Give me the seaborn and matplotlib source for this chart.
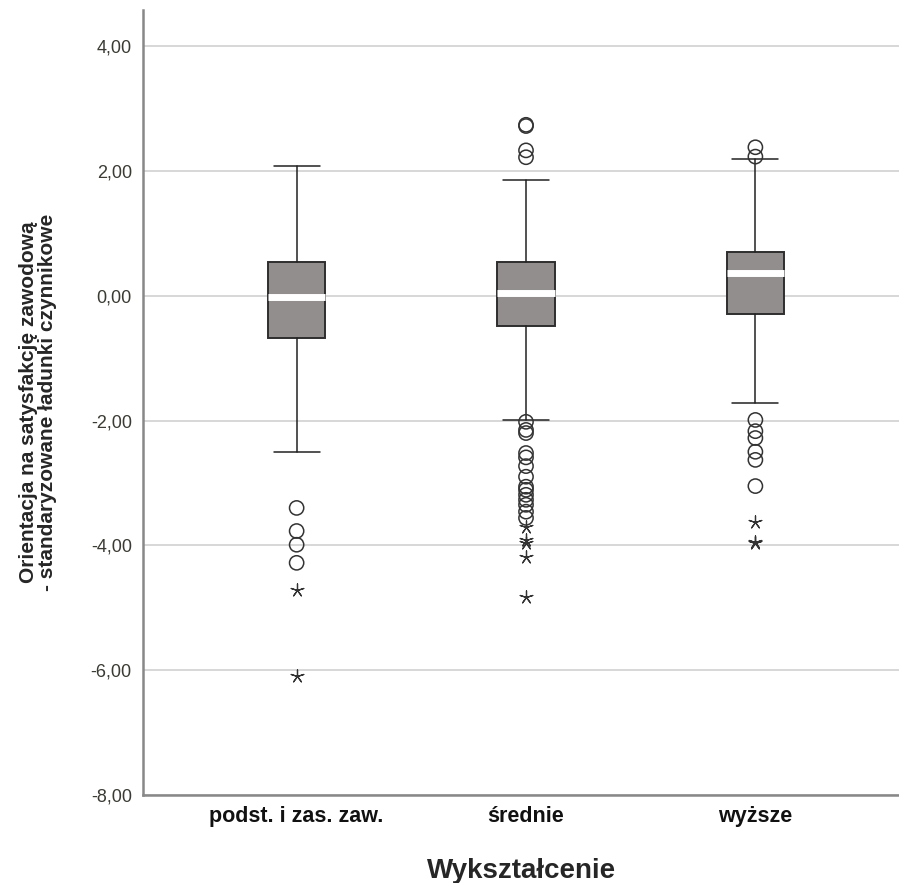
import matplotlib
matplotlib.use('agg')
import numpy as np
import pandas as pd
import matplotlib.pyplot as plt
import seaborn as sns

# groups
categories = ['podst. i zas. zaw.', 'średnie', 'wyższe']

# box summary
q1 = [-0.67, -0.48, -0.29]
med = [-0.02, 0.05, 0.36]
q3 = [0.54, 0.54, 0.70]
whislo = [-2.50, -1.99, -1.72]
whishi = [2.08, 1.86, 2.19]

# outliers (circles) and extremes (stars)
out_g1 = [-3.40, -3.77, -3.99, -4.28]
ext_g1 = [-4.71, -6.10]
out_g2 = [2.74, 2.72, 2.33, 2.22, -2.02, -2.15, -2.20, -2.52, -2.59, -2.73,
          -2.90, -3.06, -3.11, -3.19, -3.27, -3.35, -3.46, -3.56]
ext_g2 = [-3.70, -3.91, -3.96, -4.18, -4.82]
out_g3 = [2.38, 2.23, -1.99, -2.17, -2.28, -2.50, -2.63, -3.05]
ext_g3 = [-3.63, -3.95, -3.96]

sns.set_style('white')
plt.rcParams['font.family'] = ['Liberation Sans', 'DejaVu Sans']

fig = plt.figure(figsize=(8.99, 8.83), dpi=100)
ax = fig.add_axes([0.159, 0.0997, 0.842, 0.889])

stats = []
for i, c in enumerate(categories):
    stats.append(dict(label=c, q1=q1[i], med=med[i], q3=q3[i],
                      whislo=whislo[i], whishi=whishi[i], fliers=[]))

ax.bxp(stats, positions=[0, 1, 2], widths=0.25, patch_artist=True,
       showfliers=False,
       boxprops=dict(facecolor='#928e8d', edgecolor='#2e2e2e', linewidth=1.4),
       medianprops=dict(color='white', linewidth=5, solid_capstyle='butt'),
       whiskerprops=dict(color='#222222', linewidth=1.1),
       capprops=dict(color='#222222', linewidth=1.1), capwidths=0.2,
       zorder=3)

rows = []
for i, (o, e) in enumerate([(out_g1, ext_g1), (out_g2, ext_g2), (out_g3, ext_g3)]):
    for v in o:
        rows.append((i, v, 'out'))
    for v in e:
        rows.append((i, v, 'ext'))
df = pd.DataFrame(rows, columns=['pos', 'val', 'kind'])

sns.scatterplot(data=df[df.kind == 'out'], x='pos', y='val', ax=ax, marker='o',
                s=105, facecolor='none', edgecolor='#333333', linewidth=1.1,
                zorder=4, legend=False)
sns.scatterplot(data=df[df.kind == 'ext'], x='pos', y='val', ax=ax, marker=(5, 2, 0),
                s=90, color='#333333', linewidth=0.9, zorder=4, legend=False)

ax.set_xlim(-0.67, 2.63)
ax.set_ylim(-8, 4.58)
ax.set_yticks([4, 2, 0, -2, -4, -6, -8])
ax.set_yticklabels(['4,00', '2,00', '0,00', '-2,00', '-4,00', '-6,00', '-8,00'],
                   fontsize=13, color='#3b3a33')
ax.set_xticks([0, 1, 2])
ax.set_xticklabels(categories, fontsize=15.5, fontweight='bold', color='#111111')
ax.tick_params(axis='both', length=0, pad=8)
ax.grid(axis='y', color='#d4d4d4', linewidth=1.3, zorder=0)
ax.set_axisbelow(True)

for s in ['top', 'right']:
    ax.spines[s].set_visible(False)
for s in ['left', 'bottom']:
    ax.spines[s].set_color('#888888')
    ax.spines[s].set_linewidth(1.8)

ax.set_xlabel('Wykształcenie', fontsize=20, fontweight='bold', labelpad=22)
ax.set_ylabel('Orientacja na satysfakcję zawodową\n- standaryzowane ładunki czynnikowe',
              fontsize=15, fontweight='bold', labelpad=24, linespacing=1.05)

fig.savefig('out.png', dpi=100)
